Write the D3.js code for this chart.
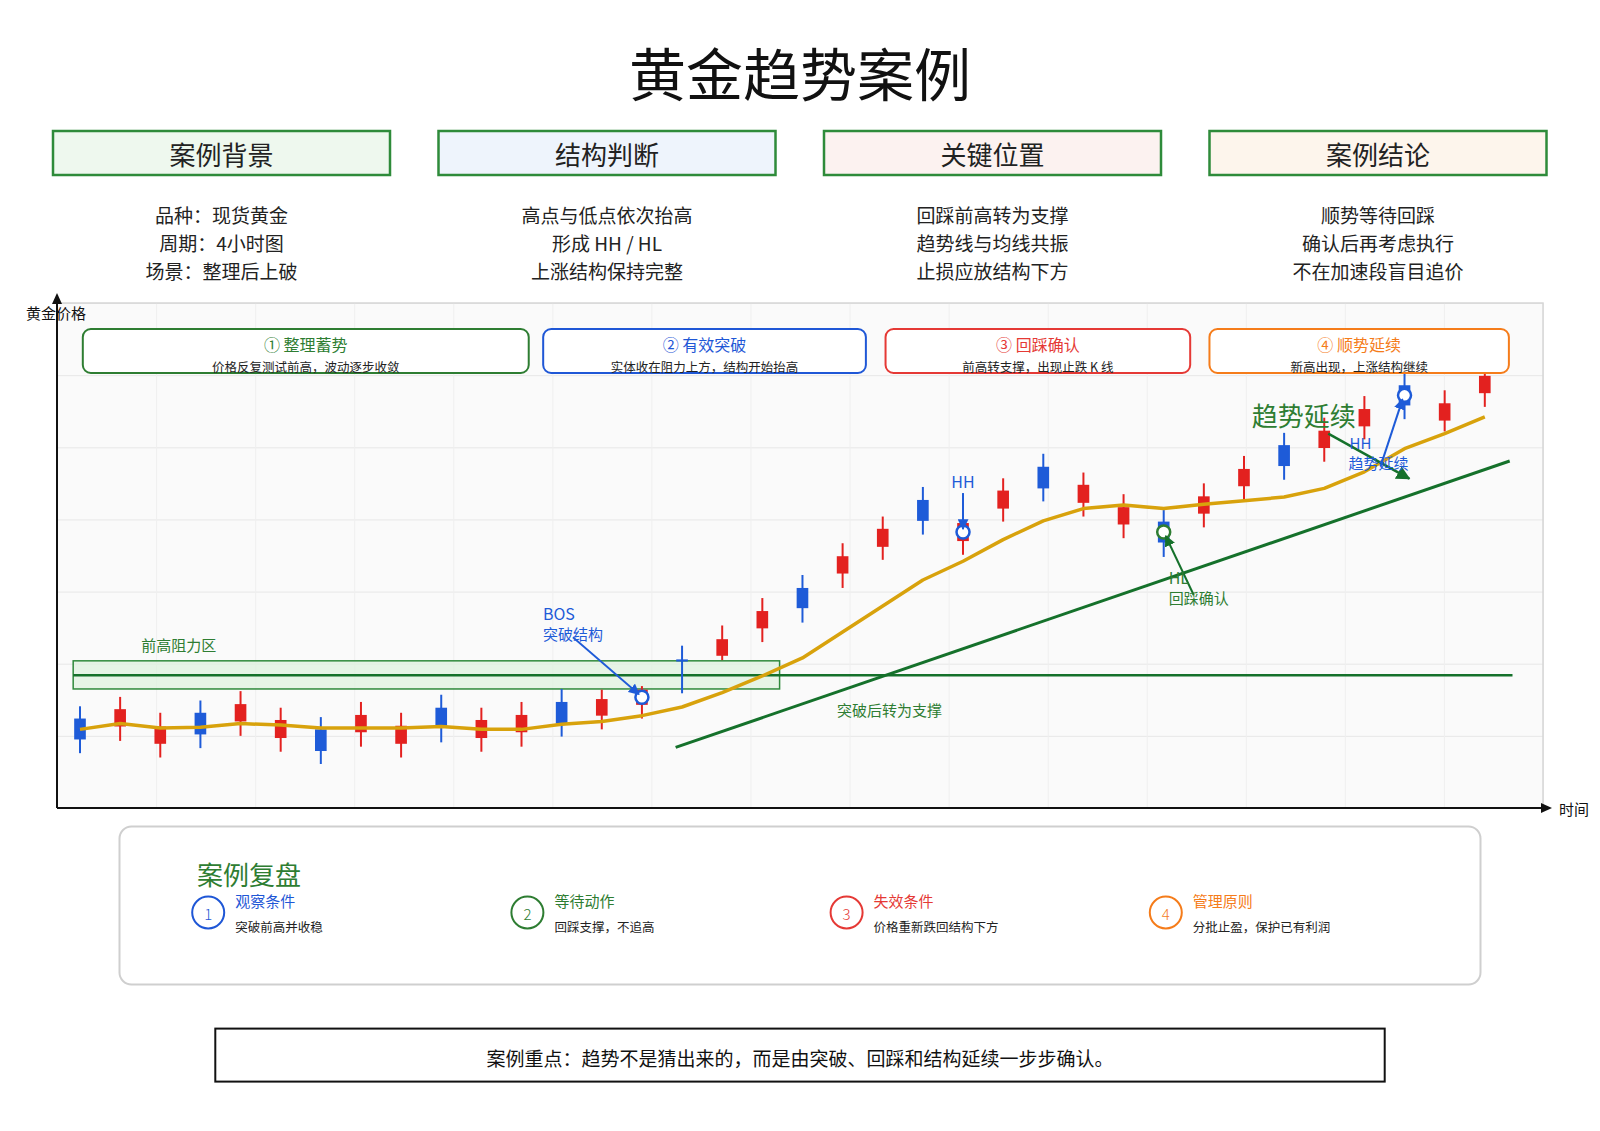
<!DOCTYPE html>
<html>
<head>
<meta charset="utf-8">
<script src="https://cdn.jsdelivr.net/npm/d3@7"></script>
<style>
  body { margin: 0; background: #fff; }
  text { font-family: "Noto Sans CJK SC", "Noto Sans", sans-serif; }
</style>
</head>
<body>
<svg id="chart"></svg>
<script>
// ---- data ----
const titleText = '黄金趋势案例';
const headerTitles = ['案例背景', '结构判断', '关键位置', '案例结论'];
const headerLines = [
  ['品种：现货黄金', '周期：4小时图', '场景：整理后上破'],
  ['高点与低点依次抬高', '形成 HH / HL', '上涨结构保持完整'],
  ['回踩前高转为支撑', '趋势线与均线共振', '止损应放结构下方'],
  ['顺势等待回踩', '确认后再考虑执行', '不在加速段盲目追价']
];

// 36 candles, 4h bars (price)
const candleOpen  = [2312.4, 2311.3, 2308.9, 2313.2, 2312.0, 2309.7, 2310.9, 2310.5, 2308.9, 2313.9, 2309.7, 2310.5,
                     2314.7, 2312.8, 2314.3, 2320.6, 2321.1, 2324.9, 2330.5, 2332.5, 2336.2, 2342.7, 2337.0, 2341.5,
                     2347.3, 2342.3, 2339.3, 2339.7, 2340.8, 2344.6, 2350.3, 2349.9, 2352.9, 2358.6, 2353.7, 2357.5];
const candleHigh  = [2314.1, 2315.4, 2313.2, 2314.9, 2316.2, 2313.9, 2312.6, 2314.7, 2313.2, 2315.7, 2313.9, 2314.7,
                     2316.5, 2316.4, 2316.9, 2322.5, 2325.3, 2329.1, 2332.3, 2336.7, 2340.4, 2344.5, 2341.3, 2345.7,
                     2349.1, 2346.5, 2343.5, 2341.3, 2345.0, 2348.8, 2352.0, 2354.1, 2357.1, 2360.4, 2357.9, 2361.7];
const candleLow   = [2307.6, 2309.3, 2307.0, 2308.3, 2310.0, 2307.8, 2306.1, 2308.5, 2307.0, 2309.1, 2307.8, 2308.5,
                     2309.9, 2310.9, 2312.4, 2315.9, 2320.5, 2323.0, 2325.7, 2330.5, 2334.4, 2337.9, 2335.1, 2339.7,
                     2342.5, 2340.4, 2337.4, 2334.8, 2338.9, 2342.7, 2345.5, 2348.0, 2351.1, 2353.9, 2352.2, 2355.6];
const candleClose = [2309.5, 2313.7, 2311.3, 2310.2, 2314.4, 2312.2, 2307.9, 2312.9, 2311.4, 2311.4, 2312.2, 2312.9,
                     2311.7, 2315.1, 2316.4, 2320.3, 2323.4, 2327.3, 2327.7, 2334.9, 2338.7, 2339.8, 2339.5, 2344.0,
                     2344.3, 2344.8, 2341.7, 2336.8, 2343.2, 2347.0, 2347.4, 2352.3, 2355.3, 2355.8, 2356.1, 2359.9];
const maValues    = [2310.9, 2311.7, 2311.1, 2311.2, 2311.7, 2311.5, 2311.1, 2311.1, 2311.1, 2311.3, 2310.9, 2310.9,
                     2311.6, 2312.0, 2312.8, 2314.0, 2316.0, 2318.3, 2320.8, 2324.4, 2328.0, 2331.6, 2334.2, 2337.2,
                     2339.8, 2341.5, 2342.0, 2341.5, 2342.1, 2342.6, 2343.1, 2344.3, 2346.6, 2349.8, 2351.9, 2354.2];

const zoneLow = 2316.5;
const zoneHigh = 2320.4;
const resistanceLevel = 2318.4;
const zoneFrom = -0.17, zoneTo = 17.43, levelTo = 35.69;
const trendFrom = [14.84, 2308.4];
const trendTo = [35.62, 2348.1];

const phaseTitles = ['① 整理蓄势', '② 有效突破', '③ 回踩确认', '④ 顺势延续'];
const phaseNotes = ['价格反复测试前高，波动逐步收敛', '实体收在阻力上方，结构开始抬高', '前高转支撑，出现止跌 K 线', '新高出现，上涨结构继续'];
const phaseStart = [0.07, 11.54, 20.07, 28.14];
const phaseEnd = [11.18, 19.58, 27.66, 35.6];

const reviewTitles = ['观察条件', '等待动作', '失效条件', '管理原则'];
const reviewNotes = ['突破前高并收稳', '回踩支撑，不追高', '价格重新跌回结构下方', '分批止盈，保护已有利润'];
const noteText = '案例重点：趋势不是猜出来的，而是由突破、回踩和结构延续一步步确认。';

// ---- colours ----
const upColor = '#e3211f';
const downColor = '#1e5bd8';
const maColor = '#d8a20c';
const lineGreen = '#15712b';
const textGreen = '#2e7d32';
const phaseColors = ['#2e7d32', '#1f57d6', '#e53935', '#f57c1a'];
const reviewColors = ['#1f57d6', '#2e7d32', '#e53935', '#f57c1a'];
const headerFills = ['#eef8ee', '#eef4fc', '#fcf2f0', '#fdf5ec'];

const W = 1600, H = 1131;
const svg = d3.select('#chart').attr('width', W).attr('height', H);

// markers
const defs = svg.append('defs');
function addArrow(id, color, size) {
  defs.append('marker')
    .attr('id', id)
    .attr('viewBox', '0 0 10 10')
    .attr('refX', 9).attr('refY', 5)
    .attr('markerUnits', 'userSpaceOnUse')
    .attr('markerWidth', size).attr('markerHeight', size)
    .attr('orient', 'auto')
    .append('path').attr('d', 'M0,0 L10,5 L0,10 z').attr('fill', color);
}
addArrow('arBlue', downColor, 11);
addArrow('arGreen', lineGreen, 11);
addArrow('arGreenBig', lineGreen, 14);

// title
svg.append('text')
  .attr('x', 800).attr('y', 71)
  .attr('text-anchor', 'middle').attr('dominant-baseline', 'central')
  .style('font-size', '57px')
  .attr('fill', '#111')
  .text(titleText);

// header boxes
headerTitles.forEach((t, k) => {
  const left = 53 + k * 385.5, cx = left + 168.5;
  svg.append('rect')
    .attr('x', left).attr('y', 131).attr('width', 337).attr('height', 44)
    .attr('fill', headerFills[k]).attr('stroke', '#2e8b3a').attr('stroke-width', 2.5);
  svg.append('text')
    .attr('x', cx).attr('y', 153)
    .attr('text-anchor', 'middle').attr('dominant-baseline', 'central')
    .style('font-size', '26px').attr('fill', '#222')
    .text(t);
  headerLines[k].forEach((line, j) => {
    svg.append('text')
      .attr('x', cx).attr('y', 214.5 + j * 28)
      .attr('text-anchor', 'middle').attr('dominant-baseline', 'central')
      .style('font-size', '19px').attr('fill', '#222')
      .text(line);
  });
});

// ---- price chart ----
const plot = { left: 57, right: 1543, top: 303, bottom: 808 };
const xScale = d3.scaleLinear().domain([-0.573, 36.45]).range([plot.left, plot.right]);
const yScale = d3.scaleLinear().domain([2300, 2370]).range([plot.bottom, plot.top]);
const gridX = d3.scaleLinear().domain([0, 15]).range([plot.left, plot.right]);
const step = xScale(1) - xScale(0);

const chart = svg.append('g');

chart.append('rect')
  .attr('x', plot.left).attr('y', plot.top)
  .attr('width', plot.right - plot.left).attr('height', plot.bottom - plot.top)
  .attr('fill', '#fafafa');

// grid lines
const gy = chart.append('g')
  .attr('transform', `translate(${plot.left},0)`)
  .call(d3.axisLeft(yScale).ticks(7).tickSize(-(plot.right - plot.left)).tickFormat(''));
gy.select('.domain').remove();
gy.selectAll('line').attr('stroke', '#e7e7e7');

const gxg = chart.append('g')
  .attr('transform', `translate(0,${plot.bottom})`)
  .call(d3.axisBottom(gridX).ticks(15).tickSize(-(plot.bottom - plot.top)).tickFormat(''));
gxg.select('.domain').remove();
gxg.selectAll('line').attr('stroke', '#efefef');

chart.append('path')
  .attr('d', `M${plot.left},${plot.top}H${plot.right}V${plot.bottom}`)
  .attr('fill', 'none').attr('stroke', '#d6d6d6').attr('stroke-width', 1.5);

// resistance zone
chart.append('rect')
  .attr('x', xScale(zoneFrom)).attr('y', yScale(zoneHigh))
  .attr('width', xScale(zoneTo) - xScale(zoneFrom))
  .attr('height', yScale(zoneLow) - yScale(zoneHigh))
  .attr('fill', '#dff1df').attr('fill-opacity', 0.75)
  .attr('stroke', '#2f8a3c').attr('stroke-width', 1.5);

chart.append('text')
  .attr('x', xScale(zoneFrom) + 68).attr('y', yScale(zoneHigh) - 16)
  .attr('dominant-baseline', 'central')
  .style('font-size', '15px').attr('fill', textGreen)
  .text('前高阻力区');

chart.append('line')
  .attr('x1', xScale(zoneFrom)).attr('x2', xScale(levelTo))
  .attr('y1', yScale(resistanceLevel)).attr('y2', yScale(resistanceLevel))
  .attr('stroke', lineGreen).attr('stroke-width', 2.5);

// candles
const idx = d3.range(candleOpen.length);
const bodyW = step * 0.29;
const candles = chart.selectAll('.candle').data(idx).enter().append('g').attr('class', 'candle');
candles.append('line')
  .attr('x1', i => xScale(i)).attr('x2', i => xScale(i))
  .attr('y1', i => yScale(candleHigh[i])).attr('y2', i => yScale(candleLow[i]))
  .attr('stroke', i => candleClose[i] >= candleOpen[i] ? upColor : downColor)
  .attr('stroke-width', 2);
candles.append('rect')
  .attr('x', i => xScale(i) - bodyW / 2)
  .attr('y', i => yScale(Math.max(candleOpen[i], candleClose[i])))
  .attr('width', bodyW)
  .attr('height', i => Math.max(2, Math.abs(yScale(candleOpen[i]) - yScale(candleClose[i]))))
  .attr('fill', i => candleClose[i] >= candleOpen[i] ? upColor : downColor);

// trend line
chart.append('line')
  .attr('x1', xScale(trendFrom[0])).attr('y1', yScale(trendFrom[1]))
  .attr('x2', xScale(trendTo[0])).attr('y2', yScale(trendTo[1]))
  .attr('stroke', lineGreen).attr('stroke-width', 3);

chart.append('text')
  .attr('x', 837).attr('y', 709)
  .attr('dominant-baseline', 'central')
  .style('font-size', '15px').attr('fill', textGreen)
  .text('突破后转为支撑');

// moving average
chart.append('path')
  .datum(idx)
  .attr('d', d3.line().x(i => xScale(i)).y(i => yScale(maValues[i])))
  .attr('fill', 'none').attr('stroke', maColor).attr('stroke-width', 3.5)
  .attr('stroke-linejoin', 'round');

// ---- annotations ----
function mid(i) { return [xScale(i), yScale((candleOpen[i] + candleClose[i]) / 2)]; }
function marker(i, color) {
  const [cx, cy] = mid(i);
  chart.append('circle').attr('cx', cx).attr('cy', cy).attr('r', 6.5)
    .attr('fill', '#fff').attr('stroke', color).attr('stroke-width', 2.5);
  return [cx, cy];
}
function arrow(x1, y1, x2, y2, color, id, w) {
  chart.append('line')
    .attr('x1', x1).attr('y1', y1).attr('x2', x2).attr('y2', y2)
    .attr('stroke', color).attr('stroke-width', w)
    .attr('marker-end', `url(#${id})`);
}
function label(x, y, txt, color, size, anchor) {
  chart.append('text')
    .attr('x', x).attr('y', y)
    .attr('text-anchor', anchor || 'start').attr('dominant-baseline', 'central')
    .style('font-size', size + 'px').attr('fill', color)
    .text(txt);
}

// BOS
let p = marker(14, downColor);
arrow(p[0] - 69, p[1] - 60, p[0] - 3, p[1] - 3, downColor, 'arBlue', 1.8);
label(p[0] - 99, p[1] - 84, 'BOS', downColor, 16);
label(p[0] - 99, p[1] - 64, '突破结构', downColor, 15);

// first HH
p = marker(22, downColor);
arrow(p[0], p[1] - 39, p[0], p[1] - 3, downColor, 'arBlue', 2);
label(p[0], p[1] - 51, 'HH', downColor, 16, 'middle');

// HL
p = marker(27, textGreen);
arrow(p[0] + 30, p[1] + 63, p[0] + 2, p[1] + 4, lineGreen, 'arGreen', 2);
label(p[0] + 5, p[1] + 45, 'HL', textGreen, 16);
label(p[0] + 5, p[1] + 65, '回踩确认', textGreen, 15);

// trend continuation
const tx = xScale(31), ty = yScale(candleClose[31]);
label(tx - 72.6, ty - 16.4, '趋势延续', textGreen, 26);
arrow(tx + 4, ty + 3, tx + 85, ty + 48, lineGreen, 'arGreenBig', 2.5);

p = marker(33, downColor);
arrow(p[0] - 24, p[1] + 71, p[0] - 2, p[1] + 4, downColor, 'arBlue', 2);
label(p[0] - 55, p[1] + 47, 'HH', downColor, 15);
label(p[0] - 56, p[1] + 67, '趋势延续', downColor, 15);

// phase boxes
phaseTitles.forEach((t, k) => {
  const x0 = xScale(phaseStart[k]), x1 = xScale(phaseEnd[k]);
  chart.append('rect')
    .attr('x', x0).attr('y', plot.top + 26).attr('width', x1 - x0).attr('height', 44)
    .attr('rx', 8)
    .attr('fill', '#fff').attr('stroke', phaseColors[k]).attr('stroke-width', 2);
  label((x0 + x1) / 2, plot.top + 41, t, phaseColors[k], 16, 'middle');
  label((x0 + x1) / 2, plot.top + 63, phaseNotes[k], '#222', 12.5, 'middle');
});

// axes with arrows
svg.append('text')
  .attr('x', 26).attr('y', 312).attr('dominant-baseline', 'central')
  .style('font-size', '15px').attr('fill', '#111').text('黄金价格');
svg.append('text')
  .attr('x', 1559).attr('y', 808).attr('dominant-baseline', 'central')
  .style('font-size', '15px').attr('fill', '#111').text('时间');

svg.append('line').attr('x1', plot.left).attr('x2', plot.left).attr('y1', plot.bottom).attr('y2', 300)
  .attr('stroke', '#111').attr('stroke-width', 2);
svg.append('path').attr('d', `M${plot.left},293 L${plot.left - 5},304 L${plot.left + 5},304 Z`).attr('fill', '#111');
svg.append('line').attr('x1', plot.left).attr('x2', 1545).attr('y1', plot.bottom).attr('y2', plot.bottom)
  .attr('stroke', '#111').attr('stroke-width', 2);
svg.append('path').attr('d', `M1552,${plot.bottom} L1541,${plot.bottom - 5} L1541,${plot.bottom + 5} Z`).attr('fill', '#111');

// ---- review panel ----
svg.append('rect')
  .attr('x', 119.5).attr('y', 826.5).attr('width', 1361).attr('height', 158).attr('rx', 12)
  .attr('fill', '#fff').attr('stroke', '#cfcfcf').attr('stroke-width', 2);
svg.append('text')
  .attr('x', 197).attr('y', 873).attr('dominant-baseline', 'central')
  .style('font-size', '26px').attr('fill', textGreen).text('案例复盘');

reviewTitles.forEach((t, k) => {
  const cx = 208.2 + k * 319.2, cy = 912.5;
  svg.append('circle').attr('cx', cx).attr('cy', cy).attr('r', 16)
    .attr('fill', '#fff').attr('stroke', reviewColors[k]).attr('stroke-width', 2);
  svg.append('text').attr('x', cx).attr('y', cy + 1)
    .attr('text-anchor', 'middle').attr('dominant-baseline', 'central')
    .style('font-size', '15px').style('font-weight', 300).attr('fill', reviewColors[k]).text(k + 1);
  svg.append('text').attr('x', cx + 27).attr('y', 900).attr('dominant-baseline', 'central')
    .style('font-size', '15px').attr('fill', reviewColors[k]).text(t);
  svg.append('text').attr('x', cx + 27).attr('y', 926.5).attr('dominant-baseline', 'central')
    .style('font-size', '12.5px').attr('fill', '#222').text(reviewNotes[k]);
});

// ---- key note ----
svg.append('rect')
  .attr('x', 215.3).attr('y', 1028.6).attr('width', 1169.4).attr('height', 53)
  .attr('fill', '#fff').attr('stroke', '#111').attr('stroke-width', 2);
svg.append('text')
  .attr('x', 800).attr('y', 1057)
  .attr('text-anchor', 'middle').attr('dominant-baseline', 'central')
  .style('font-size', '19px').attr('fill', '#111').text(noteText);
</script>
</body>
</html>
